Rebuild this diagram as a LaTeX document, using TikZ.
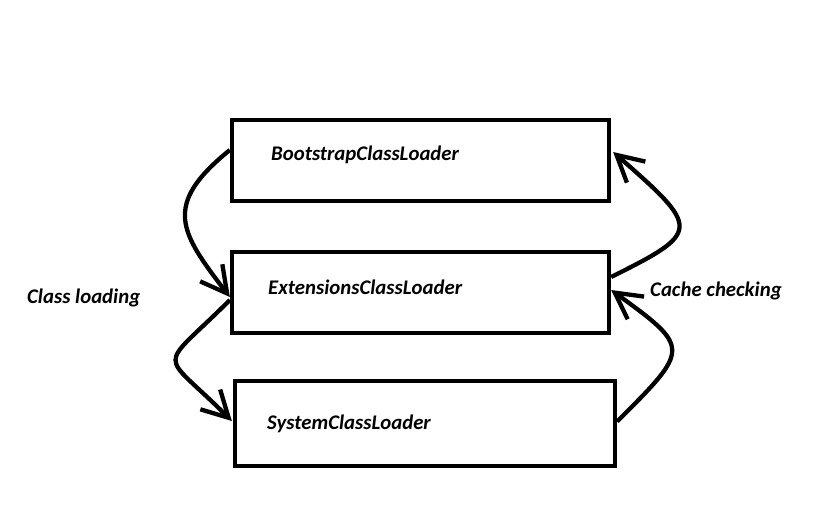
\documentclass[tikz,border=0pt]{standalone}
\usepackage{fontspec}
\setmainfont{Carlito}
\usetikzlibrary{arrows.meta,calc}
\begin{document}
\begin{tikzpicture}[x=1pt,y=-1pt,
  box/.style={draw, line width=4.3pt, inner sep=0pt},
  lbl/.style={font=\fontsize{20.8}{24}\selectfont\bfseries\itshape, inner sep=0pt, anchor=base west},
  conn/.style={line width=4.3pt, -{Straight Barb[length=26pt, width=28pt]}}]
\useasboundingbox (0,0) rectangle (818,531);
\node[box, minimum width=377pt, minimum height=81pt] (b1) at (420.5,160.5) {};
\node[box, minimum width=377pt, minimum height=81pt] (b2) at (420.5,292.5) {};
\node[box, minimum width=380pt, minimum height=85pt] (b3) at (425,423.5) {};
\node[lbl] (t1) at (271,160) {BootstrapClassLoader};
\node[lbl] (t2) at (268,294) {ExtensionsClassLoader};
\node[lbl] (t3) at (267,429) {SystemClassLoader};
\node[lbl] (cl) at (27,303) {Class loading};
\node[lbl] (cc) at (650,296) {Cache checking};
\draw[conn] ($(b1.west)+(0,-10.5)$) .. controls +(-68,55) and +(-50,-65) .. ($(b2.west)+(0,4.5)$);
\draw[conn] ($(b2.west)+(0,7.5)$) .. controls +(-73,73) and +(-73,-73) .. ($(b3.west)+(-1,-2.5)$);
\draw[conn] ($(b3.east)+(0,-2)$) .. controls +(73,-73) and +(80,58) .. ($(b2.east)+(0,-2.5)$);
\draw[conn] ($(b2.east)+(0,-15.5)$) .. controls +(90,-45) and +(88,77) .. ($(b1.east)+(2,-8.5)$);
\end{tikzpicture}
\end{document}
